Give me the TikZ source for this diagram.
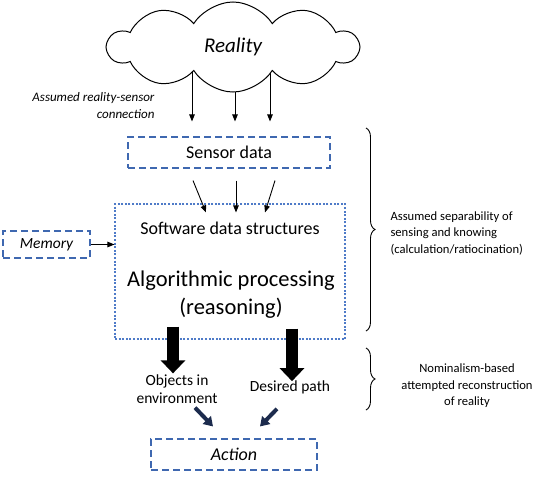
\documentclass[tikz,border=0pt]{standalone}
\usepackage{fontspec}
\setmainfont{Carlito}
\usepackage{xcolor}
\usetikzlibrary{calc,positioning,shapes.symbols,arrows.meta,backgrounds,decorations.pathreplacing}
\definecolor{boxblue}{HTML}{3F68B0}
\definecolor{dotblue}{HTML}{4F7BC8}
\definecolor{navyarrow}{HTML}{1C2B4D}

\begin{document}
\begin{tikzpicture}[x=1pt, y=-1pt,
  dashbox/.style={
    rectangle, draw=boxblue, line width=1.1pt,
    dash pattern=on 7pt off 4pt, inner sep=0pt,
  },
  dotbox/.style={
    rectangle, draw=dotblue, line width=1.1pt,
    dash pattern=on 2pt off 1.6pt, inner sep=0pt,
  },
  thinarrow/.style={line width=0.9pt, -{Triangle[length=7pt,width=5.5pt]}},
  blockarrow/.style={line width=12pt, -{Triangle[length=13pt,width=24pt]}},
  diagarrow/.style={line width=4pt, draw=navyarrow, -{Triangle[length=9pt,width=11pt]}},
  bracket/.style={decorate, decoration={brace, amplitude=9pt}, line width=0.9pt},
  notetext/.style={font=\fontsize{12.6}{16.5}\selectfont},
]
\useasboundingbox (0,0) rectangle (550,477);

\node[cloud, cloud puffs=10, cloud puff arc=115, aspect=2.8, draw, fill=white, line width=1pt,
  minimum width=250pt, minimum height=90pt,
  font=\fontsize{21}{25}\selectfont\itshape] (reality) at (233,47) {Reality};

\node[font=\fontsize{13}{17}\selectfont\itshape, align=right, anchor=east] (connection) at (158,106)
  {Assumed reality-sensor\\connection};

\node[dashbox, minimum width=202pt, minimum height=31pt,
  font=\fontsize{18}{22}\selectfont] (sensor) at (229,152.5) {Sensor data};
\coordinate (sensortop) at ($(sensor.north)+(0,-15)$);

\begin{scope}[on background layer]
  \foreach \dx [count=\i] in {-41,2,37} {
    \coordinate (rs\i) at ($(reality.center)+(\dx,0)$);
    \draw[thinarrow] (rs\i) -- (rs\i |- sensortop);
  }
\end{scope}

\node[dotbox, minimum width=230pt, minimum height=135pt] (soft) at (230,271.5) {};
\node[font=\fontsize{18}{22}\selectfont] (structures) at (230,228) {Software data structures};
\node[font=\fontsize{22.5}{28}\selectfont, align=center] (reasoning) at (231,295)
  {Algorithmic processing\\(reasoning)};

\draw[thinarrow] ([xshift=-36pt,yshift=-12pt]sensor.south) -- ([xshift=-24pt,yshift=-9pt]soft.north);
\draw[thinarrow] ([xshift=7pt,yshift=-12pt]sensor.south) -- ([xshift=6pt,yshift=-9pt]soft.north);
\draw[thinarrow] ([xshift=46pt,yshift=-12pt]sensor.south) -- ([xshift=35pt,yshift=-9pt]soft.north);

\node[dashbox, minimum width=87pt, minimum height=27pt,
  font=\fontsize{15.5}{19}\selectfont\itshape] (memory) at (46.5,244.5) {Memory};
\draw[thinarrow] (memory.east) -- (memory.east -| soft.west);

\node[font=\fontsize{15.5}{18}\selectfont, align=center, inner sep=1pt] (objects) at (177,389)
  {Objects in\\environment};
\node[font=\fontsize{15.5}{18}\selectfont, inner sep=1pt] (desired) at (290,387) {Desired path};

\coordinate (objtop) at ([xshift=-4pt]objects.north);
\coordinate (pathtop) at ([xshift=2pt,yshift=-2pt]desired.north);
\draw[blockarrow] ($(soft.south -| objtop)+(0,-13)$) -- (objtop);
\draw[blockarrow] ($(soft.south -| pathtop)+(0,-11)$) -- (pathtop);

\node[dashbox, minimum width=166pt, minimum height=31pt,
  font=\fontsize{18}{22}\selectfont\itshape] (action) at (234,454.5) {Action};

\draw[diagarrow] ([xshift=18pt,yshift=-3pt]objects.south) -- ([xshift=-21pt,yshift=12pt]action.north);
\draw[diagarrow] ([xshift=-13pt,yshift=-14pt]desired.south) -- ([xshift=26pt,yshift=12pt]action.north);

\draw[bracket] (366,128) -- (366,331);
\node[notetext, anchor=west, align=left] (separability) at (387,233)
  {Assumed separability of\\sensing and knowing\\(calculation/ratiocination)};

\draw[bracket] (366,348) -- (366,410);
\node[notetext, align=center] (nominalism) at (467,386)
  {Nominalism-based\\attempted reconstruction\\of reality};

\end{tikzpicture}
\end{document}
